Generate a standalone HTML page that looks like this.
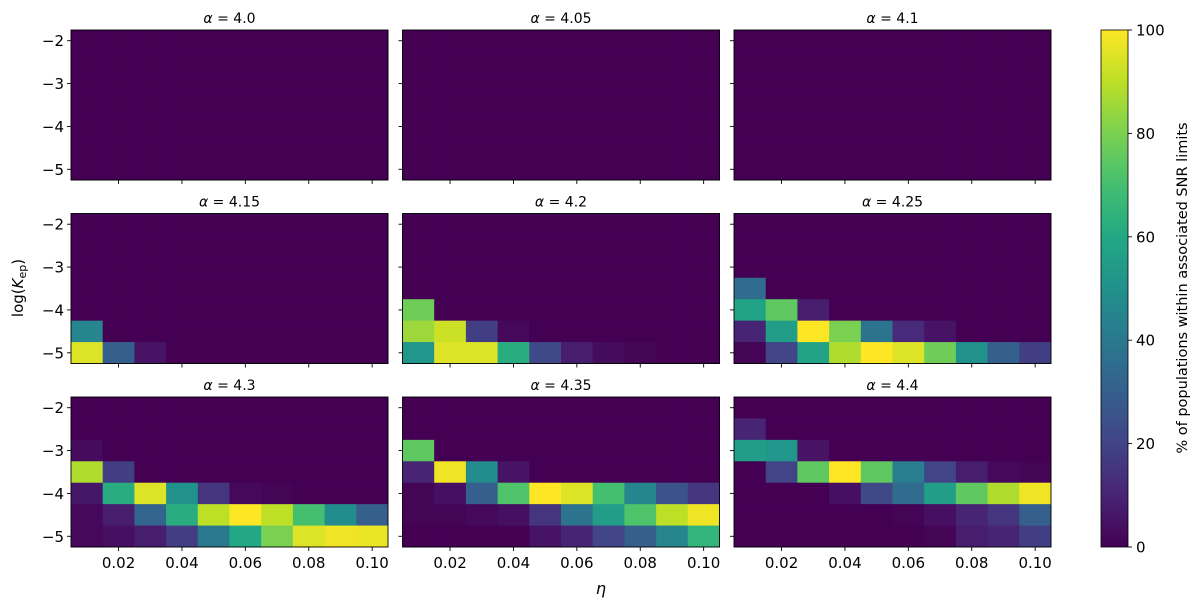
<!DOCTYPE html>
<html><head><meta charset="utf-8">
<style>
html,body{margin:0;padding:0;background:#fff;}
svg text{font-family:"DejaVu Sans","Liberation Sans",sans-serif;fill:#000;}
</style></head>
<body>
<svg id="chart" width="1200" height="607" viewBox="0 0 1200 607" xmlns="http://www.w3.org/2000/svg">
<defs>
<linearGradient id="viridis" x1="0" y1="1" x2="0" y2="0">
<stop offset="0" stop-color="#440154"/><stop offset="0.1" stop-color="#482475"/><stop offset="0.2" stop-color="#414487"/><stop offset="0.3" stop-color="#355f8d"/><stop offset="0.4" stop-color="#2a788e"/><stop offset="0.5" stop-color="#21918c"/><stop offset="0.6" stop-color="#22a884"/><stop offset="0.7" stop-color="#44bf70"/><stop offset="0.8" stop-color="#7ad151"/><stop offset="0.9" stop-color="#bddf26"/><stop offset="1" stop-color="#fde725"/>
</linearGradient>
</defs>
<g id="panels"></g>
<text x="0" y="0" font-size="15" text-anchor="middle" transform="translate(23,288) rotate(-90)">log(<tspan font-style="italic">K</tspan><tspan font-size="11" dy="3">ep</tspan><tspan dy="-3">)</tspan></text>
<text x="601" y="594" font-size="16" font-style="italic" text-anchor="middle">η</text>
<g>
<rect x="1101" y="30" width="27" height="517" fill="url(#viridis)" stroke="#000" stroke-width="0.8"/>
<g id="cbticks"></g>
<text font-size="14.5" text-anchor="middle" transform="translate(1187,288) rotate(-90)">% of populations within associated SNR limits</text>
</g>
</svg>
<script>
const alphas = ["4.0","4.05","4.1","4.15","4.2","4.25","4.3","4.35","4.4"];
const etaCats = [0.01,0.02,0.03,0.04,0.05,0.06,0.07,0.08,0.09,0.10];
const logKCats = [-2,-2.5,-3,-3.5,-4,-4.5,-5];
const xTicks = [0.02,0.04,0.06,0.08,0.10];
const xTickLabels = ["0.02","0.04","0.06","0.08","0.10"];
const yTicks = [-2,-3,-4,-5];
const yTickLabels = ["−2","−3","−4","−5"];
const cbTicks = [0,20,40,60,80,100];
const Z = [0,0,0,0,0,0,0,0,0,0];
const p40 = [Z,Z,Z,Z,Z,Z,Z];
const p405 = [Z,Z,Z,Z,Z,Z,Z];
const p41 = [Z,Z,Z,Z,Z,Z,Z];
const p415 = [Z,Z,Z,Z,Z,[45,0,0,0,0,0,0,0,0,0],[95,30,5,0,0,0,0,0,0,0]];
const p42 = [Z,Z,Z,Z,[78,0,0,0,0,0,0,0,0,0],[85,92,18,2,0,0,0,0,0,0],[52,95,95,62,22,8,3,1,0,0]];
const p425 = [Z,Z,Z,[35,0,0,0,0,0,0,0,0,0],[58,75,8,0,0,0,0,0,0,0],[10,55,100,80,38,12,5,0,0,0],[1,20,58,88,100,95,78,50,30,18]];
const p43 = [Z,Z,[3,0,0,0,0,0,0,0,0,0],[88,18,0,0,0,0,0,0,0,0],[6,62,95,50,15,2,1,0,0,0],[2,8,32,62,90,100,90,70,48,30],[2,4,8,18,40,60,80,95,98,97]];
const p435 = [Z,Z,[75,0,0,0,0,0,0,0,0,0],[10,98,48,5,0,0,0,0,0,0],[1,4,30,72,100,95,70,45,25,15],[1,1,2,4,15,38,55,72,90,98],[0,0,0,0,5,10,20,30,45,65]];
const p44 = [Z,[10,0,0,0,0,0,0,0,0,0],[55,52,5,0,0,0,0,0,0,0],[0,20,75,100,75,42,20,8,2,1],[0,0,0,4,22,35,55,75,88,98],[0,0,0,0,0,1,4,10,15,30],[0,0,0,0,0,0,1,8,10,18]];
const panelData = [p40,p405,p41,p415,p42,p425,p43,p435,p44];

const NS="http://www.w3.org/2000/svg";
const stops=[[68,1,84],[72,36,117],[65,68,135],[53,95,141],[42,120,142],[33,145,140],[34,168,132],[68,191,112],[122,209,81],[189,223,38],[253,231,37]];
function viridis(v){let t=Math.max(0,Math.min(1,v/100))*10;let i=Math.min(9,Math.floor(t));let f=t-i;const a=stops[i],b=stops[i+1];return `rgb(${Math.round(a[0]+(b[0]-a[0])*f)},${Math.round(a[1]+(b[1]-a[1])*f)},${Math.round(a[2]+(b[2]-a[2])*f)})`;}
function mk(tag,attrs){const e=document.createElementNS(NS,tag);for(const k in attrs)e.setAttribute(k,attrs[k]);return e;}
const colX=[71,402.5,734], rowY=[30,213.5,397], PW=317, PH=150;
const panels=document.getElementById('panels');
panelData.forEach((data,p)=>{
  const c=p%3,r=Math.floor(p/3),x0=colX[c],y0=rowY[r];
  const xs=v=>x0+(v-0.005)/0.1*PW;
  const ys=v=>y0+(-1.75-v)/3.5*PH;
  const g=mk('g',{});
  
  
  panels.appendChild(g);
  data.forEach((row,ri)=>{
    row.forEach((v,ci)=>{
      const e=etaCats[ci],k=logKCats[ri];
      const x1=xs(e-0.005),x2=xs(e+0.005),y1=ys(k+0.25),y2=ys(k-0.25);
      const rc=mk('rect',{x:x1,y:y1,width:x2-x1+0.4,height:y2-y1+0.4,fill:viridis(v)});
      
      
      g.appendChild(rc);
    });
  });
  const fr=mk('rect',{x:x0,y:y0,width:PW,height:PH,fill:'none',stroke:'#000','stroke-width':0.9});
  
  
  g.appendChild(fr);
  const tt=mk('text',{x:x0+PW/2,y:y0-7,'font-size':14,'text-anchor':'middle'});
  tt.innerHTML='<tspan font-style="italic">α</tspan> = '+alphas[p];
  
  
  g.appendChild(tt);
  xTicks.forEach((t,i)=>{
    const x=xs(t);
    g.appendChild(mk('line',{x1:x,x2:x,y1:y0+PH,y2:y0+PH+4,stroke:'#000','stroke-width':0.9}));
    if(r===2){const lb=mk('text',{x:x,y:y0+PH+21,'font-size':15,'text-anchor':'middle'});lb.textContent=xTickLabels[i];
      
      
      g.appendChild(lb);}
  });
  yTicks.forEach((t,i)=>{
    const y=ys(t);
    g.appendChild(mk('line',{x1:x0-4,x2:x0,y1:y,y2:y,stroke:'#000','stroke-width':0.9}));
    if(c===0){const lb=mk('text',{x:x0-7,y:y+5.5,'font-size':15,'text-anchor':'end'});lb.textContent=yTickLabels[i];
      
      
      g.appendChild(lb);}
  });
});
const cb=document.getElementById('cbticks');
cbTicks.forEach(t=>{
  const y=547-t/100*517;
  cb.appendChild(mk('line',{x1:1128,x2:1132,y1:y,y2:y,stroke:'#000','stroke-width':0.9}));
  const lb=mk('text',{x:1136,y:y+5.5,'font-size':15});lb.textContent=String(t);
  
  
  cb.appendChild(lb);
});
</script>
</body></html>
